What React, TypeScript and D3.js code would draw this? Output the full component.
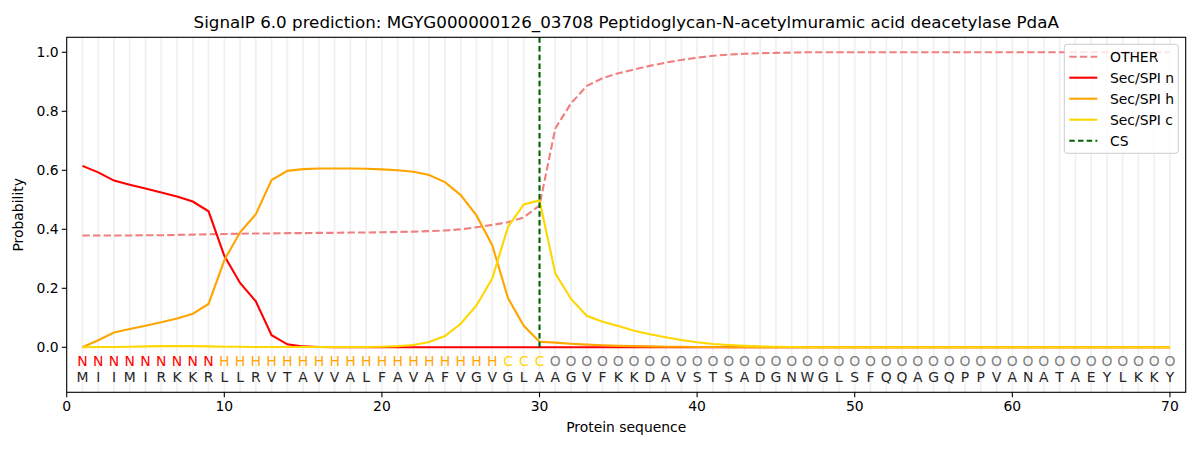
import * as d3 from "d3";

const WIDTH = 1200;
const HEIGHT = 450;
const margin = { top: 37.3, right: 14.3, bottom: 57.7, left: 66.7 };

const sequence = "MIIMIRKKRLLRVTAVVALFAVAFVGVGLAAGVFKKDAVSTSADGNWGLSFQQAGQPPVANATAEYLKKY".split("");
const annotation = "NNNNNNNNNHHHHHHHHHHHHHHHHHHCCCOOOOOOOOOOOOOOOOOOOOOOOOOOOOOOOOOOOOOOOO".split("");

const other = [
    0.379, 0.379, 0.379, 0.379, 0.38, 0.38, 0.381, 0.382, 0.383, 0.384,
    0.385, 0.386, 0.386, 0.387, 0.387, 0.388, 0.388, 0.389, 0.389, 0.39,
    0.391, 0.392, 0.394, 0.396, 0.4, 0.407, 0.415, 0.424, 0.44, 0.481,
    0.742, 0.827, 0.886, 0.912, 0.929, 0.942, 0.954, 0.965, 0.974, 0.982,
    0.988, 0.992, 0.995, 0.997, 0.998, 0.999, 1, 1, 1, 1,
    1, 1, 1, 1, 1, 1, 1, 1, 1, 1,
    1, 1, 1, 1, 1, 1, 1, 1, 1, 1,
];
const secN = [
    0.615, 0.593, 0.565, 0.551, 0.538, 0.525, 0.511, 0.494, 0.461, 0.31,
    0.218, 0.156, 0.041, 0.01, 0.003, 0.001, 0, 0, 0, 0,
    0, 0, 0, 0, 0, 0, 0, 0, 0, 0,
    0, 0, 0, 0, 0, 0, 0, 0, 0, 0,
    0, 0, 0, 0, 0, 0, 0, 0, 0, 0,
    0, 0, 0, 0, 0, 0, 0, 0, 0, 0,
    0, 0, 0, 0, 0, 0, 0, 0, 0, 0,
];
const secH = [
    0, 0.024, 0.05, 0.062, 0.073, 0.085, 0.098, 0.114, 0.147, 0.295,
    0.39, 0.451, 0.567, 0.598, 0.604, 0.606, 0.606, 0.606, 0.605, 0.603,
    0.6, 0.595, 0.584, 0.56, 0.516, 0.447, 0.346, 0.167, 0.073, 0.019,
    0.016, 0.012, 0.009, 0.007, 0.005, 0.004, 0.003, 0.002, 0.002, 0.001,
    0.001, 0, 0, 0, 0, 0, 0, 0, 0, 0,
    0, 0, 0, 0, 0, 0, 0, 0, 0, 0,
    0, 0, 0, 0, 0, 0, 0, 0, 0, 0,
];
const secC = [
    0, 0.001, 0.001, 0.002, 0.003, 0.004, 0.004, 0.004, 0.003, 0.002,
    0.002, 0.001, 0.001, 0.001, 0.001, 0.001, 0.001, 0.001, 0.001, 0.002,
    0.004, 0.008, 0.018, 0.038, 0.08, 0.142, 0.233, 0.408, 0.484, 0.498,
    0.251, 0.164, 0.107, 0.087, 0.072, 0.056, 0.044, 0.034, 0.025, 0.017,
    0.011, 0.008, 0.005, 0.003, 0.002, 0.001, 0, 0, 0, 0,
    0, 0, 0, 0, 0, 0, 0, 0, 0, 0,
    0, 0, 0, 0, 0, 0, 0, 0, 0, 0,
];
const cleavageSite = 30;

const xTicks = [0, 10, 20, 30, 40, 50, 60, 70];
const yTicks = [0, 0.2, 0.4, 0.6, 0.8, 1.0];

const series = [
    { name: "OTHER", values: other, color: "#f08080", dash: "7.4,3.2" },
    { name: "Sec/SPI n", values: secN, color: "#ff0000", dash: "" },
    { name: "Sec/SPI h", values: secH, color: "#ffa500", dash: "" },
    { name: "Sec/SPI c", values: secC, color: "#ffd700", dash: "" },
];

const annotationColor: Record<string, string> = { N: "#ff0000", H: "#ffa500", C: "#ffd700", O: "#808080" };

const FONT = "DejaVu Sans, sans-serif";

export default function App() {
    const innerWidth = WIDTH - margin.left - margin.right;
    const innerHeight = HEIGHT - margin.top - margin.bottom;
    const x = d3.scaleLinear().domain([0, 71]).range([0, innerWidth]);
    const y = d3.scaleLinear().domain([-0.1525, 1.0508]).range([innerHeight, 0]);
    const positions = sequence.map((_, i) => i + 1);
    const line = d3
        .line<number>()
        .x((_, i) => x(i + 1))
        .y((d) => y(d));

    const legendItems = [...series.map((s) => ({ name: s.name, color: s.color, dash: s.dash })), { name: "CS", color: "#006400", dash: "5.5,3.2" }];

    return (
        <svg width={WIDTH} height={HEIGHT} style={{ position: "absolute", left: 0, top: 0, background: "#fff" }} fontFamily={FONT}>
            <text x={margin.left + innerWidth / 2} y={28} textAnchor="middle" fontSize={16.7} fill="#000">
                SignalP 6.0 prediction: MGYG000000126_03708 Peptidoglycan-N-acetylmuramic acid deacetylase PdaA
            </text>
            <g transform={`translate(${margin.left},${margin.top})`}>
                {positions.map((p) => (
                    <line key={`g${p}`} x1={x(p)} x2={x(p)} y1={0} y2={innerHeight} stroke="#000" strokeOpacity={0.06} strokeWidth={1.8} />
                ))}
                {series.map((s) => (
                    <path key={s.name} d={line(s.values) ?? ""} fill="none" stroke={s.color} strokeWidth={2.1} strokeDasharray={s.dash || undefined} />
                ))}
                <line x1={x(cleavageSite)} x2={x(cleavageSite)} y1={y(0)} y2={0} stroke="#006400" strokeWidth={2.1} strokeDasharray="5.5,3.2" />
                {positions.map((p, i) => (
                    <g key={`t${p}`}>
                        <text x={x(p)} y={y(0) + 19} textAnchor="middle" fontSize={13.9} fill={annotationColor[annotation[i]]}>
                            {annotation[i]}
                        </text>
                        <text x={x(p)} y={y(0) + 35} textAnchor="middle" fontSize={13.9} fill="#262626">
                            {sequence[i]}
                        </text>
                    </g>
                ))}
                <rect x={0} y={0} width={innerWidth} height={innerHeight} fill="none" stroke="#000" strokeWidth={1.1} />
                {yTicks.map((t) => (
                    <g key={`y${t}`} transform={`translate(0,${y(t)})`}>
                        <line x1={-4.9} x2={0} stroke="#000" strokeWidth={1.1} />
                        <text x={-8} dy="0.35em" textAnchor="end" fontSize={13.9} fill="#000">
                            {t.toFixed(1)}
                        </text>
                    </g>
                ))}
                {xTicks.map((t) => (
                    <g key={`x${t}`} transform={`translate(${x(t)},${innerHeight})`}>
                        <line y1={0} y2={4.9} stroke="#000" strokeWidth={1.1} />
                        <text y={19} textAnchor="middle" fontSize={13.9} fill="#000">
                            {t}
                        </text>
                    </g>
                ))}
                <text x={innerWidth / 2} y={innerHeight + 40} textAnchor="middle" fontSize={13.9} fill="#000">
                    Protein sequence
                </text>
                <text transform={`translate(${-44},${innerHeight / 2}) rotate(-90)`} textAnchor="middle" fontSize={13.9} fill="#000">
                    Probability
                </text>
                <g transform={`translate(${1064.3 - margin.left},${44.3 - margin.top})`}>
                    <rect x={0} y={0} width={114} height={109} rx={3} fill="#fff" fillOpacity={0.8} stroke="#cccccc" strokeWidth={1} />
                    {legendItems.map((item, i) => (
                        <g key={item.name} transform={`translate(0,${12.4 + i * 21})`}>
                            <line x1={5} x2={33} stroke={item.color} strokeWidth={2.1} strokeDasharray={item.dash || undefined} />
                            <text x={45.7} dy="0.35em" fontSize={13.9} fill="#000">
                                {item.name}
                            </text>
                        </g>
                    ))}
                </g>
            </g>
        </svg>
    );
}
